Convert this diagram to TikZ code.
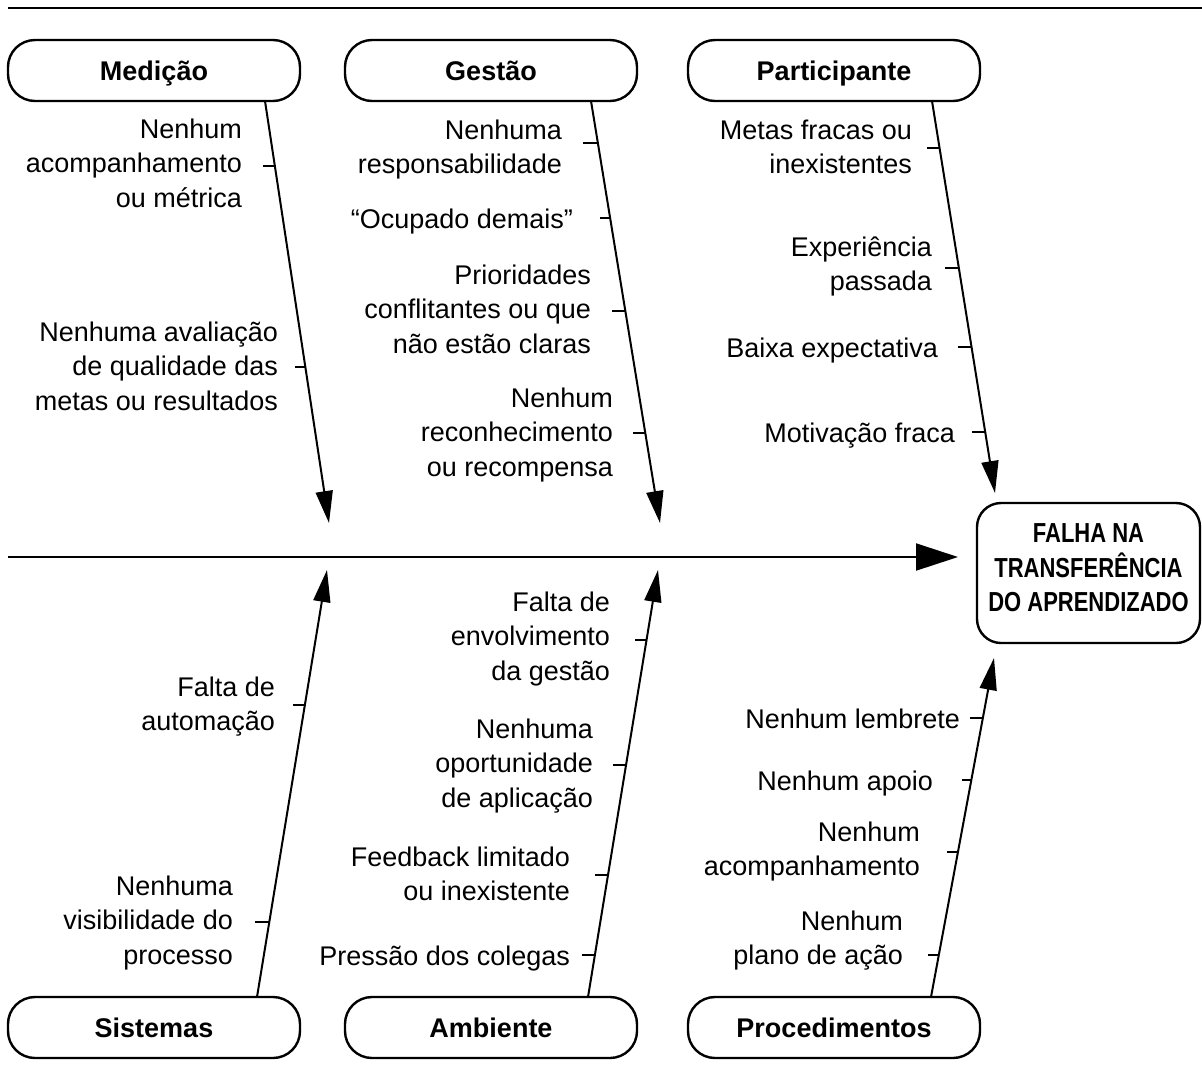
\documentclass[tikz,border=0pt]{standalone}
\usepackage{fontspec}
\setmainfont{Liberation Sans}
\newfontfamily\condsans{Liberation Sans}[FakeStretch=0.8]
\usetikzlibrary{arrows.meta}
\newcommand\lnstrut{\rule[-10.4pt]{0pt}{34.5pt}}

\begin{document}
\begin{tikzpicture}[x=1pt,y=-1pt,
  every node/.style={inner sep=0pt, outer sep=0pt},
  catbox/.style={draw, line width=2.4pt, rounded corners=27pt,
    minimum width=292pt, minimum height=61pt,
    font=\bfseries\fontsize{27}{34.5}\selectfont,
    text height=19.5pt, text depth=0pt},
  effbox/.style={draw, line width=2.4pt, rounded corners=24pt,
    minimum width=223pt, minimum height=140pt, align=center,
    font=\condsans\bfseries\fontsize{27.5}{34.5}\selectfont,
    execute at begin node=\lnstrut, execute at end node=\lnstrut},
  cause/.style={font=\fontsize{27}{34.5}\selectfont, align=right, anchor=east,
    yshift=-3pt,
    execute at begin node=\lnstrut, execute at end node=\lnstrut},
  bone/.style={line width=2pt, -{Triangle[length=32pt,width=17pt]}},
  spine/.style={line width=2pt, -{Triangle[length=42pt,width=27pt]}},
  tickmark/.style={line width=2pt},
]
\useasboundingbox (0,0) rectangle (1202,1085);

% top rule
\coordinate (rule0) at (8,8);
\coordinate (rule1) at (1202,8);
\draw[line width=2.5pt] (rule0) -- (rule1);

% category boxes
\node[catbox] (med) at (154,70.5) {Medição};
\node[catbox] (ges) at (491,70.5) {Gestão};
\node[catbox] (par) at (834,70.5) {Participante};
\node[catbox] (sis) at (154,1027.5) {Sistemas};
\node[catbox] (amb) at (491,1027.5) {Ambiente};
\node[catbox] (pro) at (834,1027.5) {Procedimentos};

% effect
\node[effbox] (eff) at (1088.5,573) {FALHA NA\\TRANSFERÊNCIA\\DO APRENDIZADO};

% spine
\coordinate (spine0) at (8,557);
\coordinate (spinetip) at (958,557);
\draw[spine] (spine0) -- (spinetip);

% bones
\coordinate (medtip) at (329,523);
\coordinate (gestip) at (660,523);
\coordinate (partip) at (995,493);
\coordinate (sistip) at (327,570);
\coordinate (ambtip) at (658,570);
\coordinate (protip) at (994,658);
\draw[bone] ([xshift=111pt]med.south) -- (medtip);
\draw[bone] ([xshift=100pt]ges.south) -- (gestip);
\draw[bone] ([xshift=98pt]par.south) -- (partip);
\draw[bone] ([xshift=103pt]sis.north) -- (sistip);
\draw[bone] ([xshift=97pt]amb.north) -- (ambtip);
\draw[bone] ([xshift=97pt]pro.north) -- (protip);

% causes: Medição
\node[cause] (m1) at (242,165) {Nenhum\\acompanhamento\\ou métrica};
\node[cause] (m2) at (278,368) {Nenhuma avaliação\\de qualidade das\\metas ou resultados};
\draw[tickmark] (263,166) -- (275,166);
\draw[tickmark] (295,367) -- (305.3,367);

% causes: Gestão
\node[cause] (g1) at (562,149) {Nenhuma\\responsabilidade};
\node[cause] (g2) at (573,219) {“Ocupado demais”};
\node[cause] (g3) at (591,311) {Prioridades\\conflitantes ou que\\não estão claras};
\node[cause] (g4) at (613,434) {Nenhum\\reconhecimento\\ou recompensa};
\draw[tickmark] (583,143) -- (597.9,143);
\draw[tickmark] (600,218) -- (610.1,218);
\draw[tickmark] (612,311) -- (625.3,311);
\draw[tickmark] (633,433) -- (645.3,433);

% causes: Participante
\node[cause] (p1) at (912,149) {Metas fracas ou\\inexistentes};
\node[cause] (p2) at (932,266) {Experiência\\passada};
\node[cause] (p3) at (938,348) {Baixa expectativa};
\node[cause] (p4) at (955,433) {Motivação fraca};
\draw[tickmark] (927,148) -- (939.6,148);
\draw[tickmark] (945,268) -- (958.8,268);
\draw[tickmark] (958,347) -- (971.5,347);
\draw[tickmark] (972,432) -- (985.2,432);

% causes: Sistemas
\node[cause] (s1) at (275,706) {Falta de\\automação};
\node[cause] (s2) at (233,922) {Nenhuma\\visibilidade do\\processo};
\draw[tickmark] (293,705) -- (304.8,705);
\draw[tickmark] (255,922) -- (269,922);

% causes: Ambiente
\node[cause] (a1) at (610,638) {Falta de\\envolvimento\\da gestão};
\node[cause] (a2) at (593,765) {Nenhuma\\oportunidade\\de aplicação};
\node[cause] (a3) at (570,876) {Feedback limitado\\ou inexistente};
\node[cause] (a4) at (570,956) {Pressão dos colegas};
\draw[tickmark] (635,640) -- (646.5,640);
\draw[tickmark] (613,765) -- (625.9,765);
\draw[tickmark] (595,875) -- (607.8,875);
\draw[tickmark] (582,955) -- (594.6,955);

% causes: Procedimentos
\node[cause] (r1) at (960,719) {Nenhum lembrete};
\node[cause] (r2) at (933,781) {Nenhum apoio};
\node[cause] (r3) at (920,851) {Nenhum\\acompanhamento};
\node[cause] (r4) at (903,940) {Nenhum\\plano de ação};
\draw[tickmark] (970,718) -- (982.8,718);
\draw[tickmark] (962,780) -- (971.2,780);
\draw[tickmark] (947,852) -- (957.7,852);
\draw[tickmark] (928,955) -- (938.5,955);
\end{tikzpicture}
\end{document}
